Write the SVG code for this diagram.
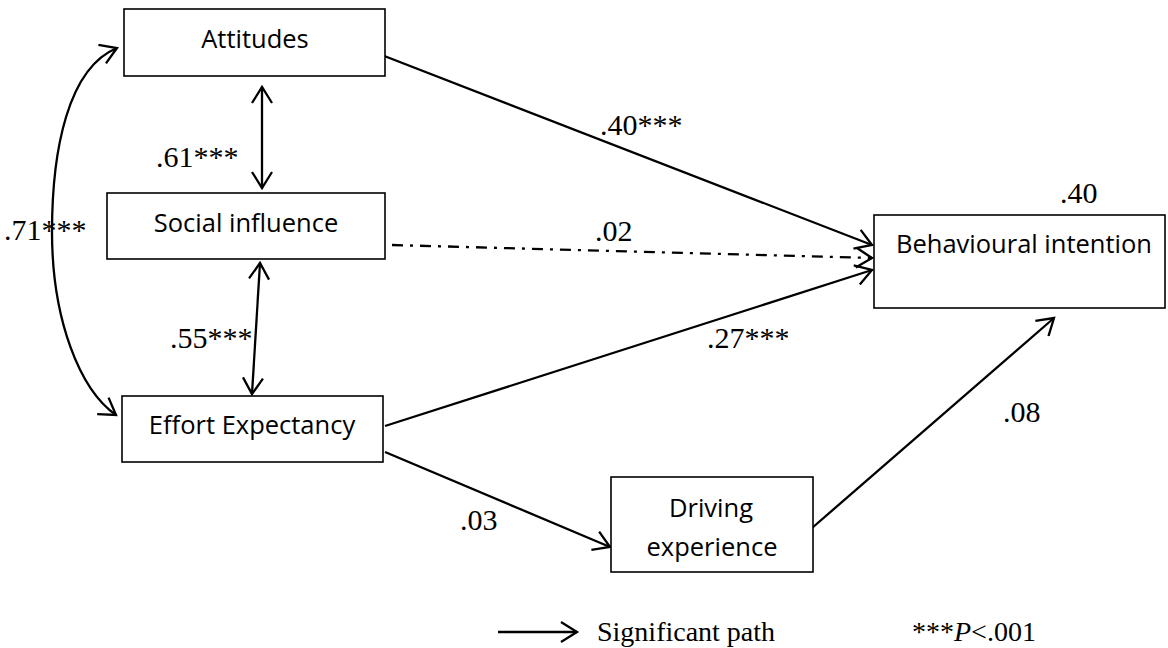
<svg xmlns="http://www.w3.org/2000/svg" width="1168" height="648" viewBox="0 0 1168 648">
<style>
.box{fill:#fff;stroke:#000;stroke-width:1.6}
.nt{font-family:"Open Sans","Liberation Sans",sans-serif;font-size:25.5px;fill:#000;text-anchor:middle}
.lb{font-family:"Liberation Serif","Times New Roman",serif;font-size:30px;fill:#000}
.lg{font-family:"Liberation Serif","Times New Roman",serif;font-size:28px;fill:#000}
.cn{fill:none;stroke:#000;stroke-width:2.3}
.dd{stroke-dasharray:11 7 3 7}
</style>
<defs>
<marker id="ah" viewBox="0 0 22 22" refX="19" refY="11" markerWidth="22" markerHeight="22" markerUnits="userSpaceOnUse" orient="auto-start-reverse">
<path d="M3,1 L19,11 L3,21" fill="none" stroke="#000" stroke-width="2.3"/>
</marker>
</defs>
<rect width="1168" height="648" fill="#fff"/>
<g id="connectors">
<path class="cn" d="M117,48 C68,68 52,150 52,232 C52,320 80,390 116,415" marker-start="url(#ah)" marker-end="url(#ah)"/>
<line class="cn" x1="262" y1="87" x2="262" y2="188" marker-start="url(#ah)" marker-end="url(#ah)"/>
<line class="cn" x1="260" y1="263" x2="252" y2="394" marker-start="url(#ah)" marker-end="url(#ah)"/>
<line class="cn" x1="374" y1="52" x2="872" y2="245" marker-end="url(#ah)"/>
<line class="cn dd" x1="392" y1="245" x2="872" y2="258" marker-end="url(#ah)"/>
<line class="cn" x1="385" y1="426" x2="872" y2="270" marker-end="url(#ah)"/>
<line class="cn" x1="385" y1="452" x2="610" y2="547" marker-end="url(#ah)"/>
<line class="cn" x1="812" y1="528" x2="1054" y2="318" marker-end="url(#ah)"/>
<line class="cn" x1="498" y1="632" x2="577" y2="632" marker-end="url(#ah)"/>
</g>
<g id="labels">
<text class="lb" x="156" y="167">.61***</text>
<text class="lb" x="170" y="348">.55***</text>
<text class="lb" x="4" y="240">.71***</text>
<text class="lb" x="600" y="135">.40***</text>
<text class="lb" x="595" y="241">.02</text>
<text class="lb" x="707" y="348">.27***</text>
<text class="lb" x="460" y="530">.03</text>
<text class="lb" x="1003" y="422">.08</text>
<text class="lb" x="1060" y="203">.40</text>
<text class="lg" x="597" y="641">Significant path</text>
<text class="lg" x="912" y="641">***<tspan font-style="italic">P</tspan>&lt;.001</text>
</g>
<g id="attitudes">
<rect class="box" x="124" y="9" width="261" height="67"/>
<text class="nt" x="255" y="48">Attitudes</text>
</g>
<g id="social-influence">
<rect class="box" x="107" y="193" width="278" height="66"/>
<text class="nt" x="246" y="232">Social influence</text>
</g>
<g id="effort-expectancy">
<rect class="box" x="122" y="396" width="261" height="66"/>
<text class="nt" x="252" y="434">Effort Expectancy</text>
</g>
<g id="behavioural-intention">
<rect class="box" x="874" y="215" width="291" height="93"/>
<text class="nt" x="1024" y="253">Behavioural intention</text>
</g>
<g id="driving-experience">
<rect class="box" x="611" y="477" width="202" height="95"/>
<text class="nt" x="711" y="517">Driving</text>
<text class="nt" x="712" y="556">experience</text>
</g>
</svg>
